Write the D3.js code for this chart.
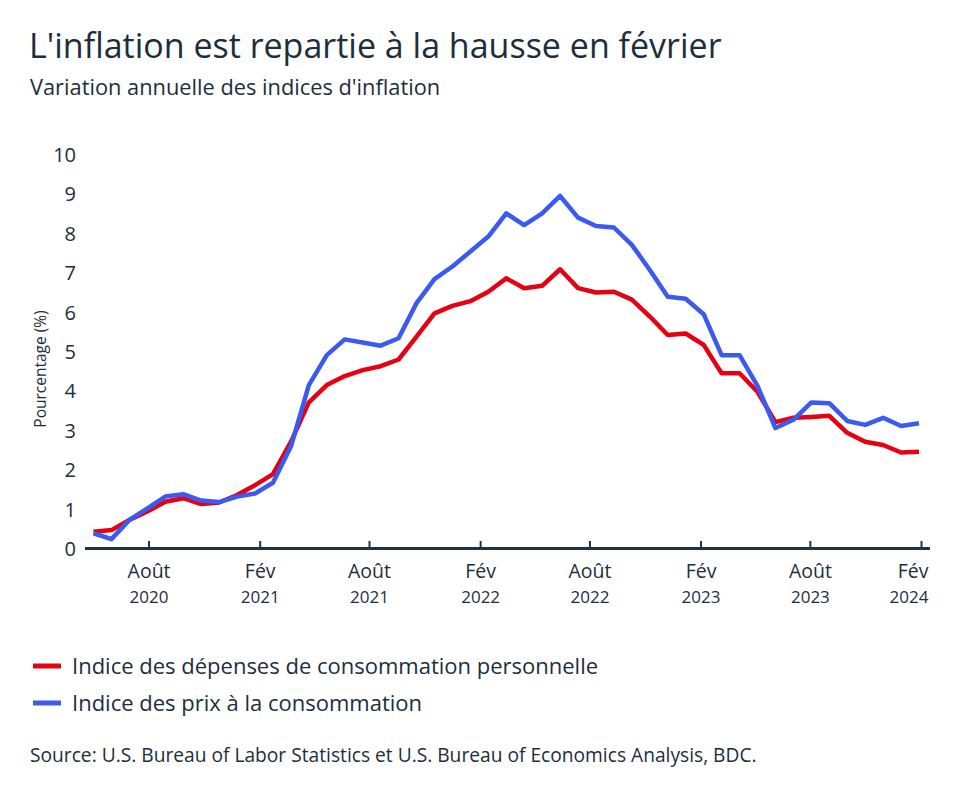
<!DOCTYPE html>
<html>
<head>
<meta charset="utf-8">
<script src="https://cdn.jsdelivr.net/npm/d3@7"></script>
<style>
  body { margin: 0; background: #fff; }
  text { font-family: "Open Sans", "Noto Sans", sans-serif; fill: #1c2e3d; }
</style>
</head>
<body>
<div class="canva"></div>
<script>
// mois des données (avril 2020 à février 2024)
const mois = d3.range(47).map(i => new Date(2020, 3 + i, 1));

// Indice des dépenses de consommation personnelle (PCE)
const pce = [0.44, 0.48, 0.74, 0.95, 1.20, 1.29, 1.14, 1.18, 1.37, 1.62, 1.90, 2.72,
  3.72, 4.16, 4.39, 4.54, 4.64, 4.81, 5.39, 5.98, 6.17, 6.29, 6.53, 6.87,
  6.62, 6.68, 7.10, 6.62, 6.51, 6.53, 6.33, 5.90, 5.43, 5.47, 5.18, 4.46,
  4.46, 3.99, 3.22, 3.33, 3.35, 3.38, 2.95, 2.72, 2.64, 2.45, 2.47];

// Indice des prix à la consommation (IPC)
const ipc = [0.40, 0.25, 0.74, 1.03, 1.33, 1.39, 1.23, 1.19, 1.33, 1.41, 1.68, 2.60,
  4.16, 4.92, 5.32, 5.24, 5.16, 5.35, 6.24, 6.85, 7.17, 7.55, 7.93, 8.52,
  8.22, 8.52, 8.96, 8.41, 8.20, 8.16, 7.72, 7.08, 6.40, 6.35, 5.96, 4.92,
  4.92, 4.14, 3.07, 3.28, 3.72, 3.70, 3.25, 3.15, 3.33, 3.12, 3.19];

// étiquettes de l'axe x
const ticksX = [new Date(2020, 7, 1), new Date(2021, 1, 1), new Date(2021, 7, 1), new Date(2022, 1, 1),
  new Date(2022, 7, 1), new Date(2023, 1, 1), new Date(2023, 7, 1), new Date(2024, 1, 1)];
const nomsMois = { 1: "Fév", 7: "Août" };
const ticksY = d3.range(0, 11);

const series = [
  { nom: "Indice des dépenses de consommation personnelle", valeurs: pce, couleur: "#e60012" },
  { nom: "Indice des prix à la consommation", valeurs: ipc, couleur: "#3a5af0" }
];

const svg = d3.select(".canva")
  .append("svg")
  .attr("width", 960)
  .attr("height", 798);

// échelles
const x = d3.scalePoint().domain(mois.map(d => +d)).range([93.5, 919]);
const xAxe = d3.scaleTime().domain([new Date(2020, 4, 1), new Date(2024, 1, 1)]).range([93.5, 921.5]);
const y = d3.scaleLinear().domain([0, 10]).range([549, 155]);

// titre
svg.append("text").attr("x", 29).attr("y", 58)
  .style("font-size", "34px").text("L'inflation est repartie à la hausse en février");
svg.append("text").attr("x", 30).attr("y", 95)
  .style("font-size", "21.8px").text("Variation annuelle des indices d'inflation");

// axe y (étiquettes seulement)
svg.append("g").selectAll("text")
  .data(ticksY)
  .enter()
  .append("text")
  .attr("x", 76)
  .attr("y", d => y(d))
  .attr("dy", "0.35em")
  .attr("text-anchor", "end")
  .style("font-size", "20px")
  .text(d => d);

svg.append("text")
  .attr("transform", "translate(46,369) rotate(-90)")
  .attr("text-anchor", "middle")
  .style("font-size", "15.5px")
  .text("Pourcentage (%)");

// lignes
const ligne = d3.line()
  .x((d, i) => x(+mois[i]))
  .y(d => y(d));

svg.append("g").selectAll("path")
  .data(series)
  .enter()
  .append("path")
  .attr("d", d => ligne(d.valeurs))
  .attr("fill", "none")
  .attr("stroke", d => d.couleur)
  .attr("stroke-width", 4.5)
  .attr("stroke-linejoin", "round");

// axe x
const gx = svg.append("g");
gx.append("line")
  .attr("x1", 85).attr("x2", 930)
  .attr("y1", 548.5).attr("y2", 548.5)
  .attr("stroke", "#1f3447").attr("stroke-width", 3);

const tick = gx.selectAll(".tick")
  .data(ticksX)
  .enter()
  .append("g")
  .attr("class", "tick")
  .attr("transform", d => "translate(" + xAxe(d) + ",0)");

tick.append("line")
  .attr("y1", 541).attr("y2", 548)
  .attr("stroke", "#1f3447").attr("stroke-width", 2);

tick.append("text")
  .attr("y", 578)
  .attr("text-anchor", (d, i) => i === ticksX.length - 1 ? "end" : "middle")
  .attr("dx", (d, i) => i === ticksX.length - 1 ? 7 : 0)
  .style("font-size", "19.5px")
  .text(d => nomsMois[d.getMonth()]);

tick.append("text")
  .attr("y", 603)
  .attr("text-anchor", (d, i) => i === ticksX.length - 1 ? "end" : "middle")
  .attr("dx", (d, i) => i === ticksX.length - 1 ? 7 : 0)
  .style("font-size", "17px")
  .text(d => d.getFullYear());

// légende
const leg = svg.append("g").selectAll("g")
  .data(series)
  .enter()
  .append("g")
  .attr("transform", (d, i) => "translate(0," + (666 + i * 37) + ")");

leg.append("line")
  .attr("x1", 33).attr("x2", 61)
  .attr("stroke", d => d.couleur).attr("stroke-width", 5);

leg.append("text")
  .attr("x", 72).attr("dy", "0.35em")
  .style("font-size", "22px")
  .text(d => d.nom);

svg.append("text").attr("x", 30).attr("y", 762)
  .style("font-size", "19.2px")
  .text("Source: U.S. Bureau of Labor Statistics et U.S. Bureau of Economics Analysis, BDC.");
</script>
</body>
</html>
